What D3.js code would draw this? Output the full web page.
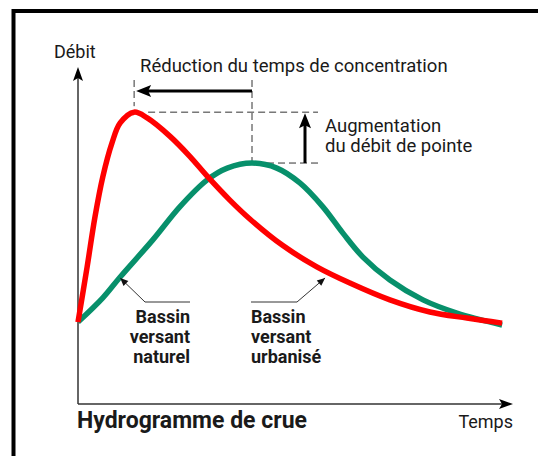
<!DOCTYPE html>
<html>
<head>
<meta charset="utf-8">
<script src="https://cdn.jsdelivr.net/npm/d3@7"></script>
<style>
  body { margin: 0; background: #fff; }
  svg { display: block; }
  text { font-family: Roboto, "Noto Sans", sans-serif; fill: #1a1a1a; }
</style>
</head>
<body>
<svg id="chart"></svg>
<script>
// hydrogram values (time and discharge in % of axis length)
const redTime = [0, 2.1, 3.9, 5.7, 7.8, 9.7, 12.9, 15.9, 21.1, 25.7, 29.7, 34.9, 39.5, 47.1, 54.9, 62.5, 71.7, 80.9, 89.4, 97.5];
const redFlow = [24.3, 40.7, 55.5, 67.4, 77.4, 83.4, 86.6, 84.9, 79.5, 73.5, 67.6, 60.5, 54.9, 47.0, 40.7, 35.9, 30.9, 27.3, 25.5, 24.0];
const greenTime = [0, 5.7, 9.7, 17.2, 23.4, 29.7, 34.3, 40.0, 45.7, 51.0, 56.3, 60.9, 65.5, 71.7, 79.3, 87.1, 97.5];
const greenFlow = [24.3, 31.5, 37.7, 48.7, 58.5, 66.5, 70.0, 71.5, 70.0, 65.6, 58.5, 50.7, 43.6, 36.8, 30.9, 27.0, 23.4];

const axisLabels = ["Débit", "Temps"];
const title = "Hydrogramme de crue";
const noteTime = "Réduction du temps de concentration";
const notePeak = ["Augmentation", "du débit de pointe"];
const naturalLabel = ["Bassin", "versant", "naturel"];
const urbanLabel = ["Bassin", "versant", "urbanisé"];
// pointer tips in data units
const naturalTip = [9.7, 37.7];
const urbanTip = [56.8, 37.7];

const width = 542, height = 456;
const svg = d3.select("#chart").attr("width", width).attr("height", height);

const x = d3.scaleLinear().domain([0, 100]).range([78, 513]);
const y = d3.scaleLinear().domain([0, 100]).range([404, 67]);

// frame (top and left edges only, picture is cropped)
svg.append("path")
  .attr("d", "M13.5,460 L13.5,11 L538,11")
  .attr("fill", "none").attr("stroke", "#000").attr("stroke-width", 4);

const axisColor = "#333";
// axes
svg.append("line").attr("x1", x(0)).attr("y1", y(0)).attr("x2", x(0)).attr("y2", y(100) + 10)
  .attr("stroke", axisColor).attr("stroke-width", 1.5);
svg.append("line").attr("x1", x(0)).attr("y1", y(0)).attr("x2", x(100) - 10).attr("y2", y(0))
  .attr("stroke", axisColor).attr("stroke-width", 1.5);
svg.append("path")
  .attr("d", `M${x(0)},${y(100)} l-5,14 l5,-3 l5,3 Z`)
  .attr("fill", "#000");
svg.append("path")
  .attr("d", `M${x(100)},${y(0)} l-14,-5 l3,5 l-3,5 Z`)
  .attr("fill", "#000");

svg.append("text").attr("x", 54).attr("y", 58).attr("font-size", 18).text(axisLabels[0]);
svg.append("text").attr("x", x(100)).attr("y", 428).attr("font-size", 18)
  .attr("text-anchor", "end").text(axisLabels[1]);
svg.append("text").attr("x", 77).attr("y", 428).attr("font-size", 23)
  .attr("font-weight", "bold").text(title);

// peaks
const redPeak = d3.greatestIndex(redFlow);
const greenPeak = d3.greatestIndex(greenFlow);
const rpx = x(redTime[redPeak]), rpy = y(redFlow[redPeak]);
const gpx = x(greenTime[greenPeak]), gpy = y(greenFlow[greenPeak]);

const dash = g => g.attr("stroke", "#333").attr("stroke-width", 1).attr("stroke-dasharray", "7,4").attr("fill", "none");
svg.append("line").attr("x1", rpx).attr("y1", 80).attr("x2", rpx).attr("y2", rpy - 6).call(dash);
svg.append("line").attr("x1", gpx).attr("y1", 80).attr("x2", gpx).attr("y2", gpy - 2).call(dash);
svg.append("line").attr("x1", rpx + 14).attr("y1", rpy).attr("x2", 318).attr("y2", rpy).call(dash);
svg.append("line").attr("x1", gpx + 4).attr("y1", gpy).attr("x2", 318).attr("y2", gpy).call(dash);

// time reduction arrow
svg.append("line").attr("x1", gpx).attr("y1", 91).attr("x2", rpx + 12).attr("y2", 91)
  .attr("stroke", "#000").attr("stroke-width", 3);
svg.append("path").attr("d", `M${rpx + 2},91 l15,-6 l-3,6 l3,6 Z`).attr("fill", "#000");
svg.append("text").attr("x", 140).attr("y", 72).attr("font-size", 18.5).text(noteTime);

// peak increase arrow
svg.append("line").attr("x1", 305).attr("y1", gpy).attr("x2", 305).attr("y2", rpy + 12)
  .attr("stroke", "#000").attr("stroke-width", 3);
svg.append("path").attr("d", `M305,${rpy + 1} l-6,15 l6,-3 l6,3 Z`).attr("fill", "#000");
svg.append("text").attr("font-size", 18.5)
  .selectAll("tspan").data(notePeak).join("tspan")
  .attr("x", 325).attr("y", (d, i) => 132 + i * 20).text(d => d);

// curves
const line = d3.line().x(d => x(d[0])).y(d => y(d[1])).curve(d3.curveCatmullRom.alpha(0.5));
svg.append("path").datum(d3.zip(greenTime, greenFlow)).attr("d", line)
  .attr("fill", "none").attr("stroke", "#07906b").attr("stroke-width", 5.5);
svg.append("path").datum(d3.zip(redTime, redFlow)).attr("d", line)
  .attr("fill", "none").attr("stroke", "#ff0000").attr("stroke-width", 5.5);

// pointers to curves
function pointer(tip, elbowX, endX) {
  const tx = x(tip[0]), ty = y(tip[1]) + 1;
  svg.append("path").attr("d", `M${endX},302 L${elbowX},302 L${tx},${ty}`)
    .attr("fill", "none").attr("stroke", "#333").attr("stroke-width", 1);
  const ang = Math.atan2(ty - 302, tx - elbowX) * 180 / Math.PI;
  svg.append("path").attr("d", "M0,0 L-8,-3.5 L-8,3.5 Z").attr("fill", "#111")
    .attr("transform", `translate(${tx},${ty}) rotate(${ang})`);
}
pointer(naturalTip, 145, 190);
pointer(urbanTip, 297, 251);

svg.append("text").attr("font-size", 18).attr("font-weight", "bold").attr("text-anchor", "end")
  .selectAll("tspan").data(naturalLabel).join("tspan")
  .attr("x", 190).attr("y", (d, i) => 323 + i * 20).text(d => d);
svg.append("text").attr("font-size", 18).attr("font-weight", "bold")
  .selectAll("tspan").data(urbanLabel).join("tspan")
  .attr("x", 251).attr("y", (d, i) => 323 + i * 20).text(d => d);
</script>
</body>
</html>
